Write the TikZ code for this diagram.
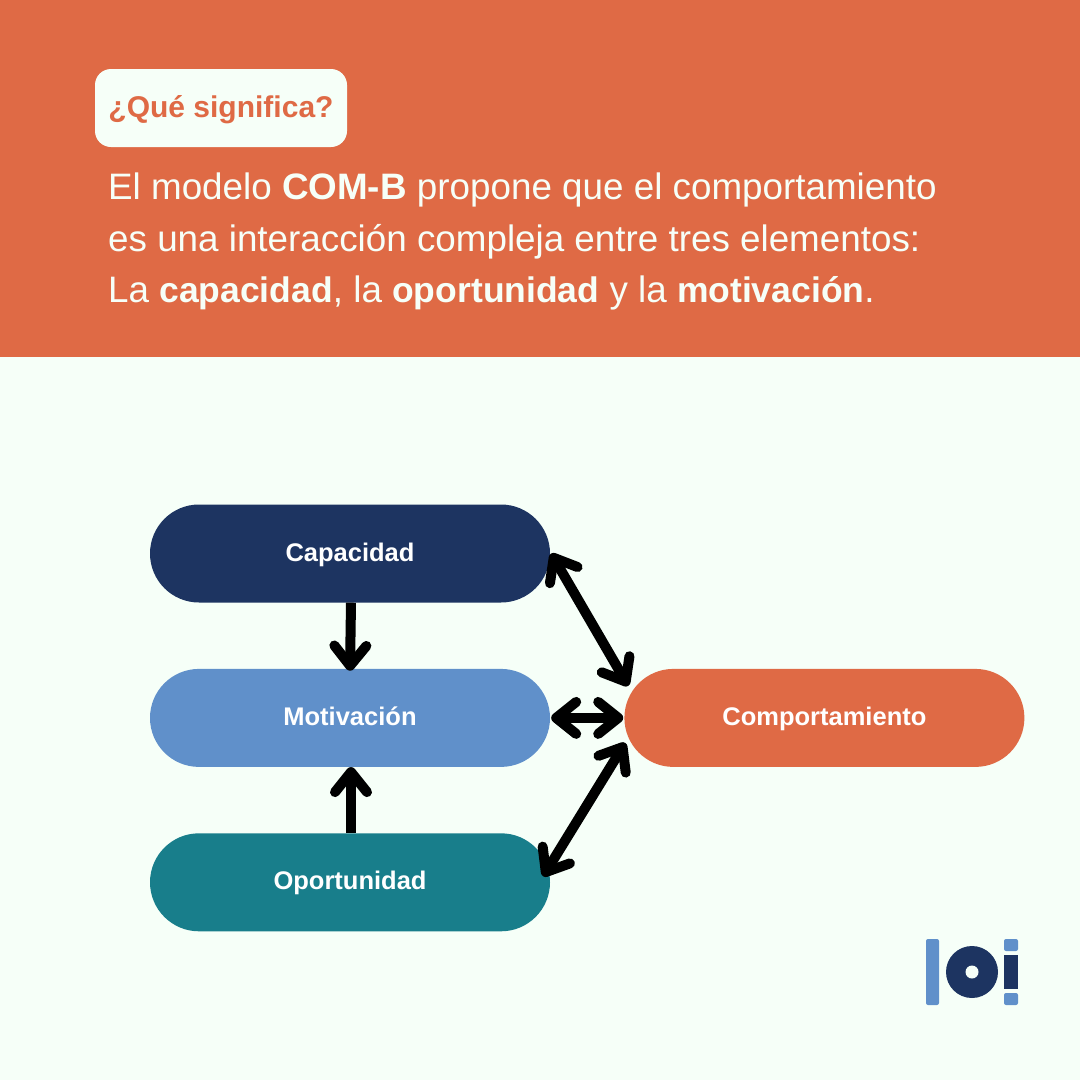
\documentclass[tikz,border=0pt]{standalone}
\usepackage{fontspec}
\setmainfont{Liberation Sans}
\usetikzlibrary{positioning,arrows.meta,shapes.misc}
\definecolor{naranja}{HTML}{DF6A45}
\definecolor{fondo}{HTML}{F6FFF8}
\definecolor{marino}{HTML}{1D3461}
\definecolor{celeste}{HTML}{6090CA}
\definecolor{verdeazul}{HTML}{187E8B}
\newcommand{\fuerte}[1]{{\fontsize{35.5}{51.5}\selectfont\bfseries #1}}
\begin{document}
\begin{tikzpicture}[
      x=1pt,y=-1pt,
      pill/.style={rounded rectangle,minimum width=400pt,minimum height=98pt,inner sep=0pt,
        text=white,text height=20pt,text depth=5pt,font=\fontsize{25.5}{28}\selectfont\bfseries},
      flecha/.style={line width=10pt,line cap=round,black,
        {Straight Barb[length=20pt,width=32pt,round]}-{Straight Barb[length=20pt,width=32pt,round]}},
      flechauna/.style={line width=10pt,black,
        -{Straight Barb[length=20pt,width=32pt,round]}}
    ]
      \useasboundingbox (0,0) rectangle (1080,1080);
      \fill[fondo] (0,0) rectangle (1080,1080);
      \fill[naranja] (0,0) rectangle (1080,357);
      % cabecera
      \node[fill=fondo,rounded corners=16pt,minimum width=252pt,minimum height=78pt,inner sep=0pt,
        text=naranja,text height=24pt,text depth=6pt,font=\fontsize{30}{34}\selectfont\bfseries] (pregunta) at (221,108) {¿Qué significa?};
      \node[anchor=north west,align=left,inner sep=0pt,text=fondo,
        font=\fontsize{36.8}{51.5}\selectfont] (texto) at (108,173) {%
        El modelo \textbf{COM-B} propone que el comportamiento\\
        es una interacción compleja entre tres elementos:\\
        La \fuerte{capacidad}, la \fuerte{oportunidad} y la \fuerte{motivación}.};
      % nodos
      \node[pill,fill=marino] (capacidad) at (350,553.5) {Capacidad};
      \node[pill,fill=celeste,below=66pt of capacidad] (motivacion) {Motivación};
      \node[pill,fill=verdeazul,below=66pt of motivacion] (oportunidad) {Oportunidad};
      \node[pill,fill=naranja,right=74pt of motivacion] (comportamiento) {Comportamiento};
      % flechas
      \draw[flechauna] ([xshift=1pt]capacidad.south) -- ([yshift=-2pt]motivacion.north);
      \draw[flechauna] ([xshift=1pt]oportunidad.north) -- ([xshift=1pt]motivacion.south);
      \draw[flecha] ([shift={(1pt,0pt)}]capacidad.east) -- ([shift={(4pt,32pt)}]comportamiento.west);
      \draw[flecha] ([xshift=1pt]motivacion.east) -- ([xshift=-1pt]comportamiento.west);
      \draw[flecha] ([shift={(-7pt,6pt)}]oportunidad.east) -- ([shift={(1pt,-25pt)}]comportamiento.west);
      % logo
      \fill[celeste,rounded corners=2pt] (926,939) rectangle (939,1005);
      \fill[marino] (972,972) circle (26pt);
      \fill[fondo] (972,972) circle (6.5pt);
      \fill[celeste,rounded corners=2pt] (1004,939) rectangle (1018,951);
      \fill[marino] (1004,955) rectangle (1018,989);
      \fill[celeste,rounded corners=2pt] (1004,993) rectangle (1018,1005);
    \end{tikzpicture}
\end{document}
